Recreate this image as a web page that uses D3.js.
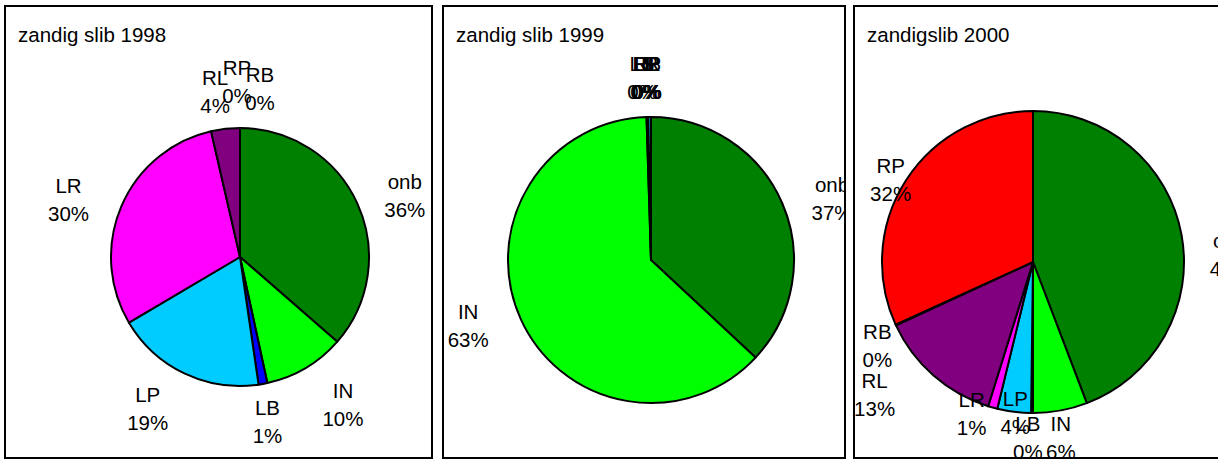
<!DOCTYPE html>
<html>
<head>
<meta charset="utf-8">
<script src="https://cdn.jsdelivr.net/npm/d3@7"></script>
<style>
  html, body { margin: 0; padding: 0; background: #fff; }
  svg { display: block; }
</style>
</head>
<body>
<div id="chart"></div>
<script>
// slice categories, in the order they run clockwise from 12 o'clock
const categories = ["onb", "IN", "LB", "LP", "LR", "RL", "RB", "RP"];
const colors = ["#008000", "#00FF00", "#0000FF", "#00CCFF", "#FF00FF", "#800080", "#000080", "#FF0000"];

const titles = ["zandig slib 1998", "zandig slib 1999", "zandigslib 2000"];

// shares in percent
const values1998 = [36.4, 10.2, 1.1, 18.8, 29.9, 3.6, 0, 0];
const values1999 = [36.95, 62.55, 0.2, 0.3, 0, 0, 0, 0];
const values2000 = [44.2, 5.8, 0.2, 3.6, 1.0, 13.3, 0.1, 31.8];

const W = 1218, H = 459;
const FONT = "Liberation Sans, Arial, sans-serif";
const FS = 20.5;
const LINE = 28;

// panel frames and pie placement
const panels = [
  { values: values1998, x0: 5, x1: 432, cx: 240, cy: 257, r: 129, k: 1.37,
    nudge: { onb: [4, 12], IN: [13, -4], LB: [-4, -9], LP: [-16, -7], LR: [-9, 13], RL: [-5, 11], RP: [-3, 2], RB: [20, 9] } },
  { values: values1999, x0: 443, x1: 845, cx: 651, cy: 260, r: 143, k: 1.35,
    nudge: { onb: [4, 16], IN: [-7, -14], LB: [-4, 11], LP: [-4, 11], LR: [-4, 11], RL: [-4, 11], RP: [-4, 11], RB: [-4, 11] } },
  { values: values2000, x0: 854, x1: 1262, cx: 1033, cy: 262, r: 151, k: 1.2,
    nudge: { onb: [19, 26], IN: [-5, -2], LB: [-4, -5], LP: [5, -29], LR: [-13, -23], RL: [-39, -3], RB: [9, 8], RP: [10, 16] } }
];
const Y0 = 6, Y1 = 458;

const svg = d3.select("#chart").append("svg")
  .attr("width", W)
  .attr("height", H)
  .attr("font-family", FONT);

const pie = d3.pie().sort(null).value(d => d.value);

panels.forEach((p, i) => {
  const data = categories.map((c, j) => ({ name: c, value: p.values[j], color: colors[j] }));
  const total = d3.sum(data, d => d.value);

  const clipId = "clip" + i;
  svg.append("clipPath").attr("id", clipId)
    .append("rect")
    .attr("x", p.x0 + 1).attr("y", Y0 + 1)
    .attr("width", p.x1 - p.x0 - 2).attr("height", Y1 - Y0 - 2);

  const g = svg.append("g").attr("clip-path", `url(#${clipId})`);

  g.append("text")
    .attr("x", p.x0 + 13)
    .attr("y", 42)
    .attr("font-size", FS)
    .attr("fill", "#000")
    .text(titles[i]);

  const arc = d3.arc().innerRadius(0).outerRadius(p.r);
  const arcs = pie(data);

  g.append("g")
    .attr("transform", `translate(${p.cx},${p.cy})`)
    .selectAll("path")
    .data(arcs)
    .join("path")
    .attr("d", arc)
    .attr("fill", d => d.data.color)
    .attr("stroke", "#000")
    .attr("stroke-width", 2)
    .attr("stroke-linejoin", "round");

  // two-line data labels placed radially outside the pie
  const labels = g.append("g").attr("font-size", FS).attr("fill", "#000").attr("text-anchor", "middle");
  arcs.forEach(a => {
    const mid = (a.startAngle + a.endAngle) / 2;
    const n = p.nudge[a.data.name] || [0, 0];
    const lx = p.cx + p.k * p.r * Math.sin(mid) + n[0];
    const ly = p.cy - p.k * p.r * Math.cos(mid) + n[1];
    const t = labels.append("text").attr("x", lx).attr("y", ly);
    t.append("tspan").attr("x", lx).attr("y", ly - LINE / 2 + 7).text(a.data.name);
    t.append("tspan").attr("x", lx).attr("y", ly + LINE / 2 + 7)
      .text(Math.round(a.data.value / total * 100) + "%");
  });

  svg.append("rect")
    .attr("x", p.x0).attr("y", Y0)
    .attr("width", p.x1 - p.x0).attr("height", Y1 - Y0)
    .attr("fill", "none")
    .attr("stroke", "#000")
    .attr("stroke-width", 2);
});
</script>
</body>
</html>
